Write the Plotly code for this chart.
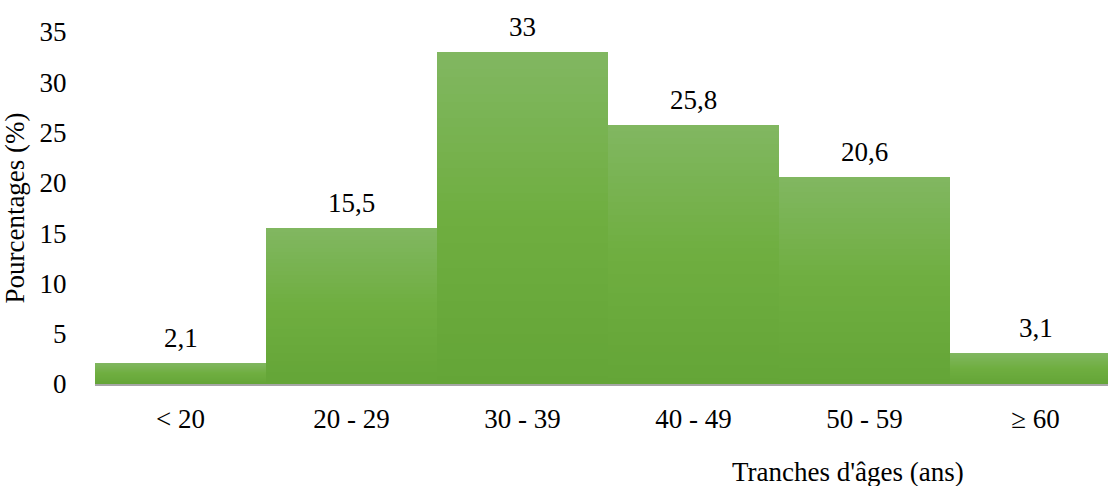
import plotly.graph_objects as go

categories = ["< 20", "20 - 29", "30 - 39", "40 - 49", "50 - 59", "≥ 60"]
values = [2.1, 15.5, 33, 25.8, 20.6, 3.1]
value_labels = ["2,1", "15,5", "33", "25,8", "20,6", "3,1"]
y_ticks = [0, 5, 10, 15, 20, 25, 30, 35]

FONT = "Liberation Serif"
FS = 27

x_idx = list(range(len(categories)))

# gradient colour stops (fraction from bottom -> colour)
stops = [(0.0, (100, 165, 55)), (0.5, (111, 174, 64)), (1.0, (129, 183, 97))]


def colour_at(f):
    for (f0, c0), (f1, c1) in zip(stops[:-1], stops[1:]):
        if f0 <= f <= f1:
            t = (f - f0) / (f1 - f0)
            c = [round(a + (b - a) * t) for a, b in zip(c0, c1)]
            return f"rgb({c[0]},{c[1]},{c[2]})"
    return f"rgb{stops[-1][1]}"


fig = go.Figure()
N = 40
for k in range(N):
    frac = 1 - k / N  # fraction of height for this layer
    fig.add_trace(go.Bar(
        x=x_idx,
        y=[v * frac for v in values],
        width=1.0,
        marker=dict(color=colour_at(frac - 0.5 / N), line=dict(width=0)),
        hoverinfo="skip",
        showlegend=False,
    ))

for xi, v, lab in zip(x_idx, values, value_labels):
    fig.add_annotation(
        x=xi, y=v, text=lab, showarrow=False, yanchor="bottom", yshift=8,
        font=dict(family=FONT, size=FS, color="black"),
    )

fig.add_annotation(
    xref="paper", yref="paper", x=0.743, y=0, xanchor="center",
    yanchor="middle", yshift=-88,
    text="Tranches d'âges (ans)", showarrow=False,
    font=dict(family=FONT, size=FS, color="black"),
)

fig.update_layout(
    width=1108, height=486,
    margin=dict(l=95, r=0, t=32, b=102, pad=0),
    barmode="overlay", bargap=0,
    plot_bgcolor="white", paper_bgcolor="white",
    font=dict(family=FONT, size=FS, color="black"),
)
fig.update_xaxes(
    range=[-0.5, 5.424],
    tickmode="array", tickvals=x_idx, ticktext=categories,
    showgrid=False, zeroline=False,
    showline=True, linecolor="#a6a6a6", linewidth=2,
    ticks="outside", ticklen=10, tickcolor="rgba(0,0,0,0)",
    tickfont=dict(family=FONT, size=FS, color="black"),
)
fig.update_yaxes(
    range=[0, 35],
    tickmode="array", tickvals=y_ticks,
    showgrid=False, zeroline=False, showline=False,
    ticks="outside", ticklen=22, tickcolor="rgba(0,0,0,0)",
    tickfont=dict(family=FONT, size=FS, color="black"),
    title=dict(text="Pourcentages (%)", standoff=8,
               font=dict(family=FONT, size=FS, color="black")),
)

fig.write_html("out.html")
